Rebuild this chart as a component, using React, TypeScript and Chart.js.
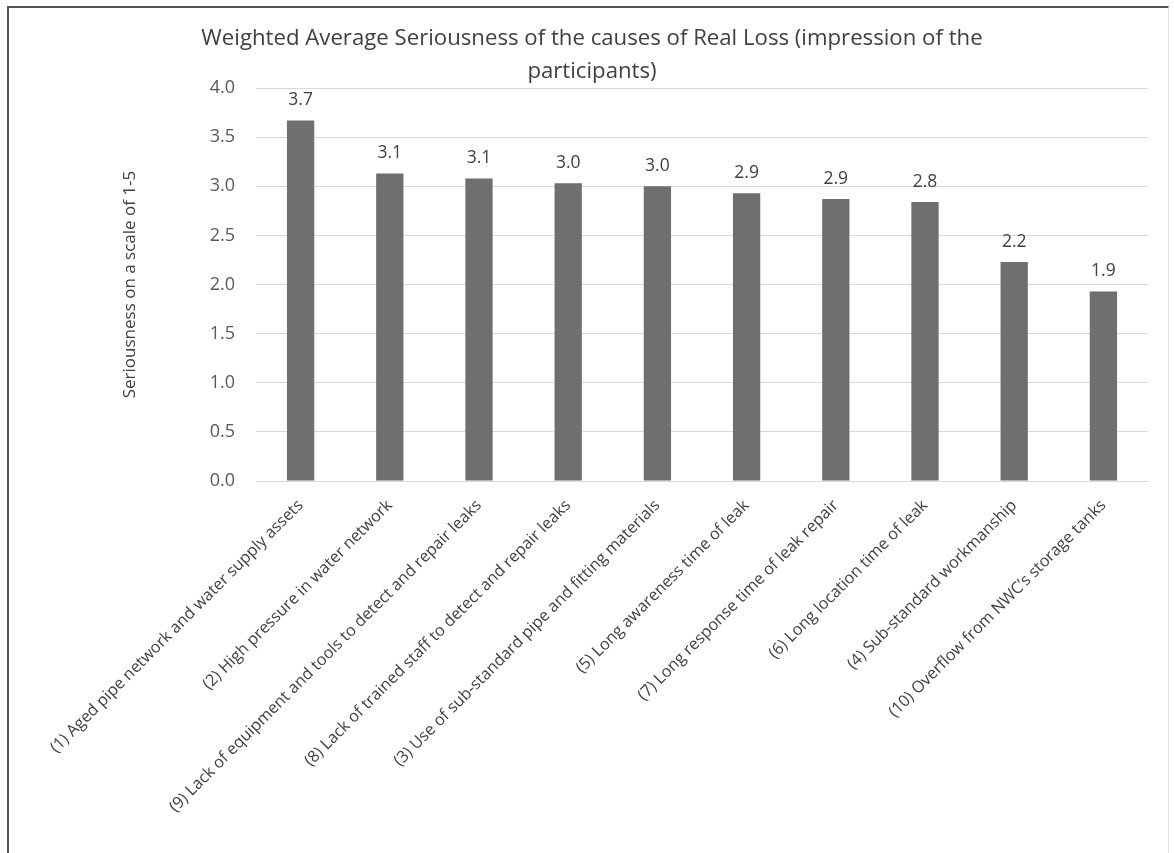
import React, { useEffect, useRef } from "react";
import { Chart, registerables } from "chart.js";

Chart.register(...registerables);

const categories = [
  "(1) Aged pipe network and water supply assets",
  "(2) High pressure in water network",
  "(9) Lack of equipment and tools to detect and repair leaks",
  "(8) Lack of trained staff to detect and repair leaks",
  "(3) Use of sub-standard pipe and fitting materials",
  "(5) Long awareness time of leak",
  "(7) Long response time of leak repair",
  "(6) Long location time of leak",
  "(4) Sub-standard workmanship",
  "(10) Overflow from NWC\u2019s storage tanks",
];
const values = [3.67, 3.13, 3.08, 3.03, 3.0, 2.93, 2.87, 2.84, 2.23, 1.93];
const titleLines = [
  "Weighted Average Seriousness of the causes of Real Loss (impression of the",
  "participants)",
];
const yAxisTitle = "Seriousness on a scale of 1-5";

const FONT = "'Open Sans', Lato, sans-serif";
const W = 1159;
const H = 845;

const dataLabels = {
  id: "dataLabels",
  afterDatasetsDraw(chart: any) {
    const ctx = chart.ctx;
    const meta = chart.getDatasetMeta(0);
    ctx.save();
    ctx.font = `17.5px ${FONT}`;
    ctx.fillStyle = "#404040";
    ctx.textAlign = "center";
    ctx.textBaseline = "alphabetic";
    meta.data.forEach((bar: any, i: number) => {
      const v = chart.data.datasets[0].data[i] as number;
      ctx.fillText(v.toFixed(1), bar.x, bar.y - 15);
    });
    ctx.restore();
  },
};

export default function App() {
  const ref = useRef<HTMLCanvasElement>(null);
  useEffect(() => {
    if (!ref.current) return;
    const chart = new Chart(ref.current, {
      type: "bar",
      data: {
        labels: categories,
        datasets: [
          {
            data: values,
            backgroundColor: "#6f6f6f",
            barPercentage: 0.306,
            categoryPercentage: 1,
          },
        ],
      },
      options: {
        responsive: false,
        animation: false,
        layout: { padding: { left: 27, right: 20, top: 0, bottom: 0 } },
        plugins: {
          legend: { display: false },
          tooltip: { enabled: false },
          title: {
            display: true,
            text: titleLines,
            color: "#404040",
            font: { family: FONT, size: 22.2, weight: "normal", lineHeight: "33px" } as any,
            padding: { top: 14, bottom: 0 },
          },
        },
        scales: {
          x: {
            grid: { display: false, drawTicks: false },
            border: { display: true, color: "#d9d9d9", width: 1 },
            ticks: {
              autoSkip: false,
              maxRotation: 45,
              minRotation: 45,
              padding: 15,
              color: "#404040",
              font: { family: FONT, size: 16.2 },
            },
            afterFit: (s: any) => {
              s.height = H - 473;
            },
          },
          y: {
            min: 0,
            max: 4,
            grid: { color: "#d9d9d9", drawTicks: false, lineWidth: 1 },
            border: { display: false },
            ticks: {
              stepSize: 0.5,
              padding: 21,
              color: "#595959",
              font: { family: FONT, size: 18 },
              callback: (v: any) => Number(v).toFixed(1),
            },
            title: {
              display: true,
              text: yAxisTitle,
              color: "#404040",
              font: { family: FONT, size: 17 },
              padding: { top: 84, bottom: 0 },
            },
            afterFit: (s: any) => {
              s.width = 220;
            },
          },
        },
      },
      plugins: [dataLabels],
    });
    return () => chart.destroy();
  }, []);

  return (
    <div
      style={{
        position: "fixed",
        left: 7,
        top: 6,
        width: 1162,
        height: 847,
        boxSizing: "border-box",
        borderLeft: "2px solid #555",
        borderTop: "2px solid #555",
        borderRight: "1px solid #e0e0e0",
        background: "#fff",
      }}
    >
      <canvas ref={ref} width={W} height={H} style={{ display: "block", width: W, height: H }} />
    </div>
  );
}
